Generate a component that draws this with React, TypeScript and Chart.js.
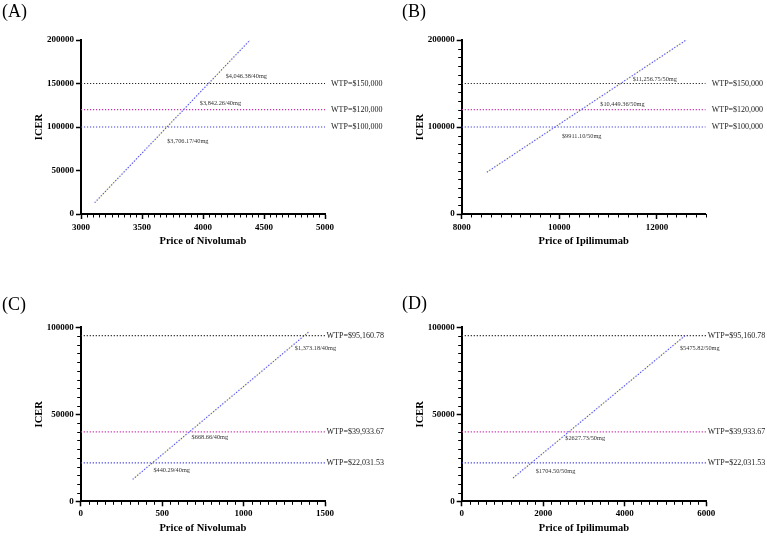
import React, { useEffect, useRef } from "react";
import { Chart, registerables } from "chart.js";

Chart.register(...registerables);

const FONT = '"Liberation Serif", "Times New Roman", serif';

// ---------- Panel A ----------
const aXTicks = [3000, 3500, 4000, 4500, 5000];
const aYTicks = [0, 50000, 100000, 150000, 200000];
const aLineX = [3112, 4386];
const aLineY = [13000, 200000];
const aWtp = [150000, 120000, 100000];
const aWtpLabels = ["WTP=$150,000", "WTP=$120,000", "WTP=$100,000"];
const aCrossX = [4046.38, 3842.26, 3706.17];
const aCrossLabels = ["$4,046.38/40mg", "$3,842.26/40mg", "$3,706.17/40mg"];

// ---------- Panel B ----------
const bXTicks = [8000, 10000, 12000];
const bYTicks = [0, 100000, 200000];
const bLineX = [8515, 12600];
const bLineY = [48000, 200000];
const bWtp = [150000, 120000, 100000];
const bWtpLabels = ["WTP=$150,000", "WTP=$120,000", "WTP=$100,000"];
const bCrossX = [11256.75, 10449.36, 9911.1];
const bCrossLabels = ["$11,256.75/50mg", "$10,449.36/50mg", "$9911.10/50mg"];

// ---------- Panel C ----------
const cXTicks = [0, 500, 1000, 1500];
const cYTicks = [0, 50000, 100000];
const cLineX = [319, 1402];
const cLineY = [12600, 97500];
const cWtp = [95160.78, 39933.67, 22031.53];
const cWtpLabels = ["WTP=$95,160.78", "WTP=$39,933.67", "WTP=$22,031.53"];
const cCrossX = [1373.18, 668.66, 440.29];
const cCrossLabels = ["$1,373.18/40mg", "$668.66/40mg", "$440.29/40mg"];

// ---------- Panel D ----------
const dXTicks = [0, 2000, 4000, 6000];
const dYTicks = [0, 50000, 100000];
const dLineX = [1260, 5476];
const dLineY = [13400, 95160.78];
const dWtp = [95160.78, 39933.67, 22031.53];
const dWtpLabels = ["WTP=$95,160.78", "WTP=$39,933.67", "WTP=$22,031.53"];
const dCrossX = [5475.82, 2627.73, 1704.5];
const dCrossLabels = ["$5475.82/50mg", "$2627.73/50mg", "$1704.50/50mg"];

const WTP_COLORS = ["#2a2a2a", "#c832b0", "#3f3fdc"];

type Panel = {
  letter: string;
  left: number;
  top: number;
  width: number;
  height: number;
  area: { l: number; r: number; t: number; b: number };
  xMin: number;
  xMax: number;
  yMax: number;
  xTicks: number[];
  yTicks: number[];
  xMinor: number;
  yMinor: number;
  xTitle: string;
  lineX: number[];
  lineY: number[];
  wtp: number[];
  wtpLabels: string[];
  crossX: number[];
  crossLabels: string[];
  crossOffsets: number[][];
  wtpGap: number;
  xLabelDy: number;
  xTitleY: number;
  yTitleX: number;
  letterTop: number;
  letterLeft: number;
};

const panels: Panel[] = [
  {
    letter: "(A)", left: 0, top: 0, width: 400, height: 268,
    area: { l: 81, r: 325, t: 40, b: 214 },
    xMin: 3000, xMax: 5000, yMax: 200000, xTicks: aXTicks, yTicks: aYTicks,
    xMinor: 50, yMinor: 0, xTitle: "Price of Nivolumab",
    lineX: aLineX, lineY: aLineY, wtp: aWtp, wtpLabels: aWtpLabels,
    crossX: aCrossX, crossLabels: aCrossLabels,
    crossOffsets: [[17, -7.5], [16, -6], [0, 14]], wtpGap: 6, xLabelDy: 13.3,
    xTitleY: 241, yTitleX: 39, letterTop: 2, letterLeft: 2,
  },
  {
    letter: "(B)", left: 383, top: 0, width: 384, height: 268,
    area: { l: 78.7, r: 322.7, t: 40, b: 214 },
    xMin: 8000, xMax: 13000, yMax: 200000, xTicks: bXTicks, yTicks: bYTicks,
    xMinor: 200, yMinor: 10000, xTitle: "Price of Ipilimumab",
    lineX: bLineX, lineY: bLineY, wtp: bWtp, wtpLabels: bWtpLabels,
    crossX: bCrossX, crossLabels: bCrossLabels,
    crossOffsets: [[12, -4.5], [19, -5.6], [7, 9]], wtpGap: 6, xLabelDy: 13.3,
    xTitleY: 241, yTitleX: 37.7, letterTop: 2, letterLeft: 19,
  },
  {
    letter: "(C)", left: 0, top: 268, width: 400, height: 268,
    area: { l: 80.7, r: 325, t: 59.3, b: 233.3 },
    xMin: 0, xMax: 1500, yMax: 100000, xTicks: cXTicks, yTicks: cYTicks,
    xMinor: 50, yMinor: 5000, xTitle: "Price of Nivolumab",
    lineX: cLineX, lineY: cLineY, wtp: cWtp, wtpLabels: cWtpLabels,
    crossX: cCrossX, crossLabels: cCrossLabels,
    crossOffsets: [[-9.5, 12.6], [2, 5.3], [1, 7]], wtpGap: 1.5, xLabelDy: 12.6,
    xTitleY: 260, yTitleX: 39, letterTop: 27, letterLeft: 2,
  },
  {
    letter: "(D)", left: 383, top: 268, width: 384, height: 268,
    area: { l: 78.7, r: 323.3, t: 59.3, b: 233.3 },
    xMin: 0, xMax: 6000, yMax: 100000, xTicks: dXTicks, yTicks: dYTicks,
    xMinor: 200, yMinor: 5000, xTitle: "Price of Ipilimumab",
    lineX: dLineX, lineY: dLineY, wtp: dWtp, wtpLabels: dWtpLabels,
    crossX: dCrossX, crossLabels: dCrossLabels,
    crossOffsets: [[-5, 12.6], [-3.5, 7], [4.5, 8.3]], wtpGap: 1.5, xLabelDy: 12.6,
    xTitleY: 260, yTitleX: 37.7, letterTop: 26, letterLeft: 19,
  },
];

const decorPlugin = {
  id: "decor",
  afterDatasetsDraw(chart: any, _args: any, opts: any) {
    const p: Panel = opts.panel;
    if (!p) return;
    const { ctx, chartArea } = chart;
    const x = chart.scales.x;
    const y = chart.scales.y;
    ctx.save();
    ctx.strokeStyle = "#000";
    ctx.lineWidth = 1;
    // minor ticks on x
    if (p.xMinor > 0) {
      const n = Math.round((p.xMax - p.xMin) / p.xMinor);
      for (let i = 0; i <= n; i++) {
        const v = p.xMin + i * p.xMinor;
        if (p.xTicks.some((t) => Math.abs(t - v) < 1e-6)) continue;
        const px = Math.round(x.getPixelForValue(v)) + 0.5;
        ctx.beginPath();
        ctx.moveTo(px, chartArea.bottom);
        ctx.lineTo(px, chartArea.bottom + 3.5);
        ctx.stroke();
      }
    }
    if (p.yMinor > 0) {
      const n = Math.round(p.yMax / p.yMinor);
      for (let i = 0; i <= n; i++) {
        const v = i * p.yMinor;
        if (p.yTicks.some((t) => Math.abs(t - v) < 1e-6)) continue;
        const py = Math.round(y.getPixelForValue(v)) + 0.5;
        ctx.beginPath();
        ctx.moveTo(chartArea.left, py);
        ctx.lineTo(chartArea.left - 3.5, py);
        ctx.stroke();
      }
    }
    // x tick labels
    ctx.fillStyle = "#000";
    ctx.textBaseline = "middle";
    ctx.textAlign = "center";
    ctx.font = `bold 9px ${FONT}`;
    p.xTicks.forEach((v) => {
      ctx.fillText(String(v), x.getPixelForValue(v), chartArea.bottom + p.xLabelDy);
    });
    // WTP labels
    ctx.fillStyle = "#1a1a1a";
    ctx.textAlign = "left";
    ctx.font = `8px ${FONT}`;
    p.wtp.forEach((v, i) => {
      ctx.fillText(p.wtpLabels[i], chartArea.right + p.wtpGap, y.getPixelForValue(v));
    });
    // crossing labels
    ctx.font = `6.3px ${FONT}`;
    ctx.fillStyle = "#333";
    p.crossX.forEach((cx, i) => {
      const [dx, dy] = p.crossOffsets[i];
      ctx.fillText(p.crossLabels[i], x.getPixelForValue(cx) + dx, y.getPixelForValue(p.wtp[i]) + dy);
    });
    ctx.restore();
  },
};

function ChartPanel({ p }: { p: Panel }) {
  const ref = useRef<HTMLCanvasElement | null>(null);
  useEffect(() => {
    if (!ref.current) return;
    const lineData = p.lineX.map((xv, i) => ({ x: xv, y: p.lineY[i] }));
    const datasets: any[] = [
      {
        data: lineData,
        borderColor: "#4f4ff0",
        borderWidth: 1.2,
        borderDash: [1.2, 1.8],
        pointRadius: 0,
        fill: false,
      },
      {
        data: lineData,
        borderColor: "rgba(195,195,90,0.35)",
        borderWidth: 1.2,
        borderDash: [1.2, 1.8],
        borderDashOffset: 1.5,
        pointRadius: 0,
        fill: false,
      },
    ];
    p.wtp.forEach((v, i) => {
      datasets.push({
        data: [
          { x: p.xMin, y: v },
          { x: p.xMax, y: v },
        ],
        borderColor: WTP_COLORS[i],
        borderWidth: 1.2,
        borderDash: [1.2, 1.8],
        pointRadius: 0,
        fill: false,
      });
    });
    const chart = new Chart(ref.current, {
      type: "line",
      data: { datasets },
      plugins: [decorPlugin],
      options: {
        animation: false,
        responsive: false,
        devicePixelRatio: 1,
        events: [],
        layout: {
          padding: { left: 0, top: p.area.t, right: p.width - p.area.r, bottom: 0 },
        },
        plugins: {
          legend: { display: false },
          tooltip: { enabled: false },
          decor: { panel: p },
        } as any,
        scales: {
          x: {
            type: "linear",
            min: p.xMin,
            max: p.xMax,
            afterBuildTicks: (s: any) => {
              s.ticks = p.xTicks.map((v) => ({ value: v }));
            },
            afterFit: (s: any) => {
              s.height = p.height - p.area.b;
            },
            grid: {
              drawOnChartArea: false,
              drawTicks: true,
              tickLength: 5,
              tickWidth: 1.5,
              tickColor: "#000",
            },
            border: { display: true, color: "#000", width: 2 },
            ticks: { display: false, autoSkip: false },
            title: {
              display: true,
              text: p.xTitle,
              font: { family: FONT, size: 10.5, weight: "bold" },
              color: "#000",
              padding: { top: 0, bottom: p.height - p.xTitleY - 6.3 },
            },
          },
          y: {
            type: "linear",
            min: 0,
            max: p.yMax,
            afterBuildTicks: (s: any) => {
              s.ticks = p.yTicks.map((v) => ({ value: v }));
            },
            afterFit: (s: any) => {
              s.width = p.area.l;
            },
            grid: {
              drawOnChartArea: false,
              drawTicks: true,
              tickLength: 5,
              tickWidth: 1.5,
              tickColor: "#000",
            },
            border: { display: true, color: "#000", width: 2 },
            ticks: {
              font: { family: FONT, size: 9, weight: "bold" },
              color: "#000",
              padding: 2,
              autoSkip: false,
              callback: (v: any) => String(v),
            },
            title: {
              display: true,
              text: "ICER",
              font: { family: FONT, size: 10.5, weight: "bold" },
              color: "#000",
              padding: { top: p.yTitleX - 6.3, bottom: 0 },
            },
          },
        },
      } as any,
    });
    return () => chart.destroy();
  }, [p]);
  return (
    <canvas
      ref={ref}
      width={p.width}
      height={p.height}
      style={{ position: "absolute", left: p.left, top: p.top, width: p.width, height: p.height }}
    />
  );
}

export default function App() {
  return (
    <div
      style={{
        position: "absolute",
        left: 0,
        top: 0,
        width: 767,
        height: 536,
        background: "#fff",
        overflow: "hidden",
      }}
    >
      {panels.map((p) => (
        <ChartPanel key={p.letter} p={p} />
      ))}
      {panels.map((p) => (
        <div
          key={"l" + p.letter}
          style={{
            position: "absolute",
            left: p.left + p.letterLeft,
            top: p.top + p.letterTop,
            fontFamily: FONT,
            fontSize: 18,
            lineHeight: "18px",
            color: "#000",
          }}
        >
          {p.letter}
        </div>
      ))}
    </div>
  );
}
